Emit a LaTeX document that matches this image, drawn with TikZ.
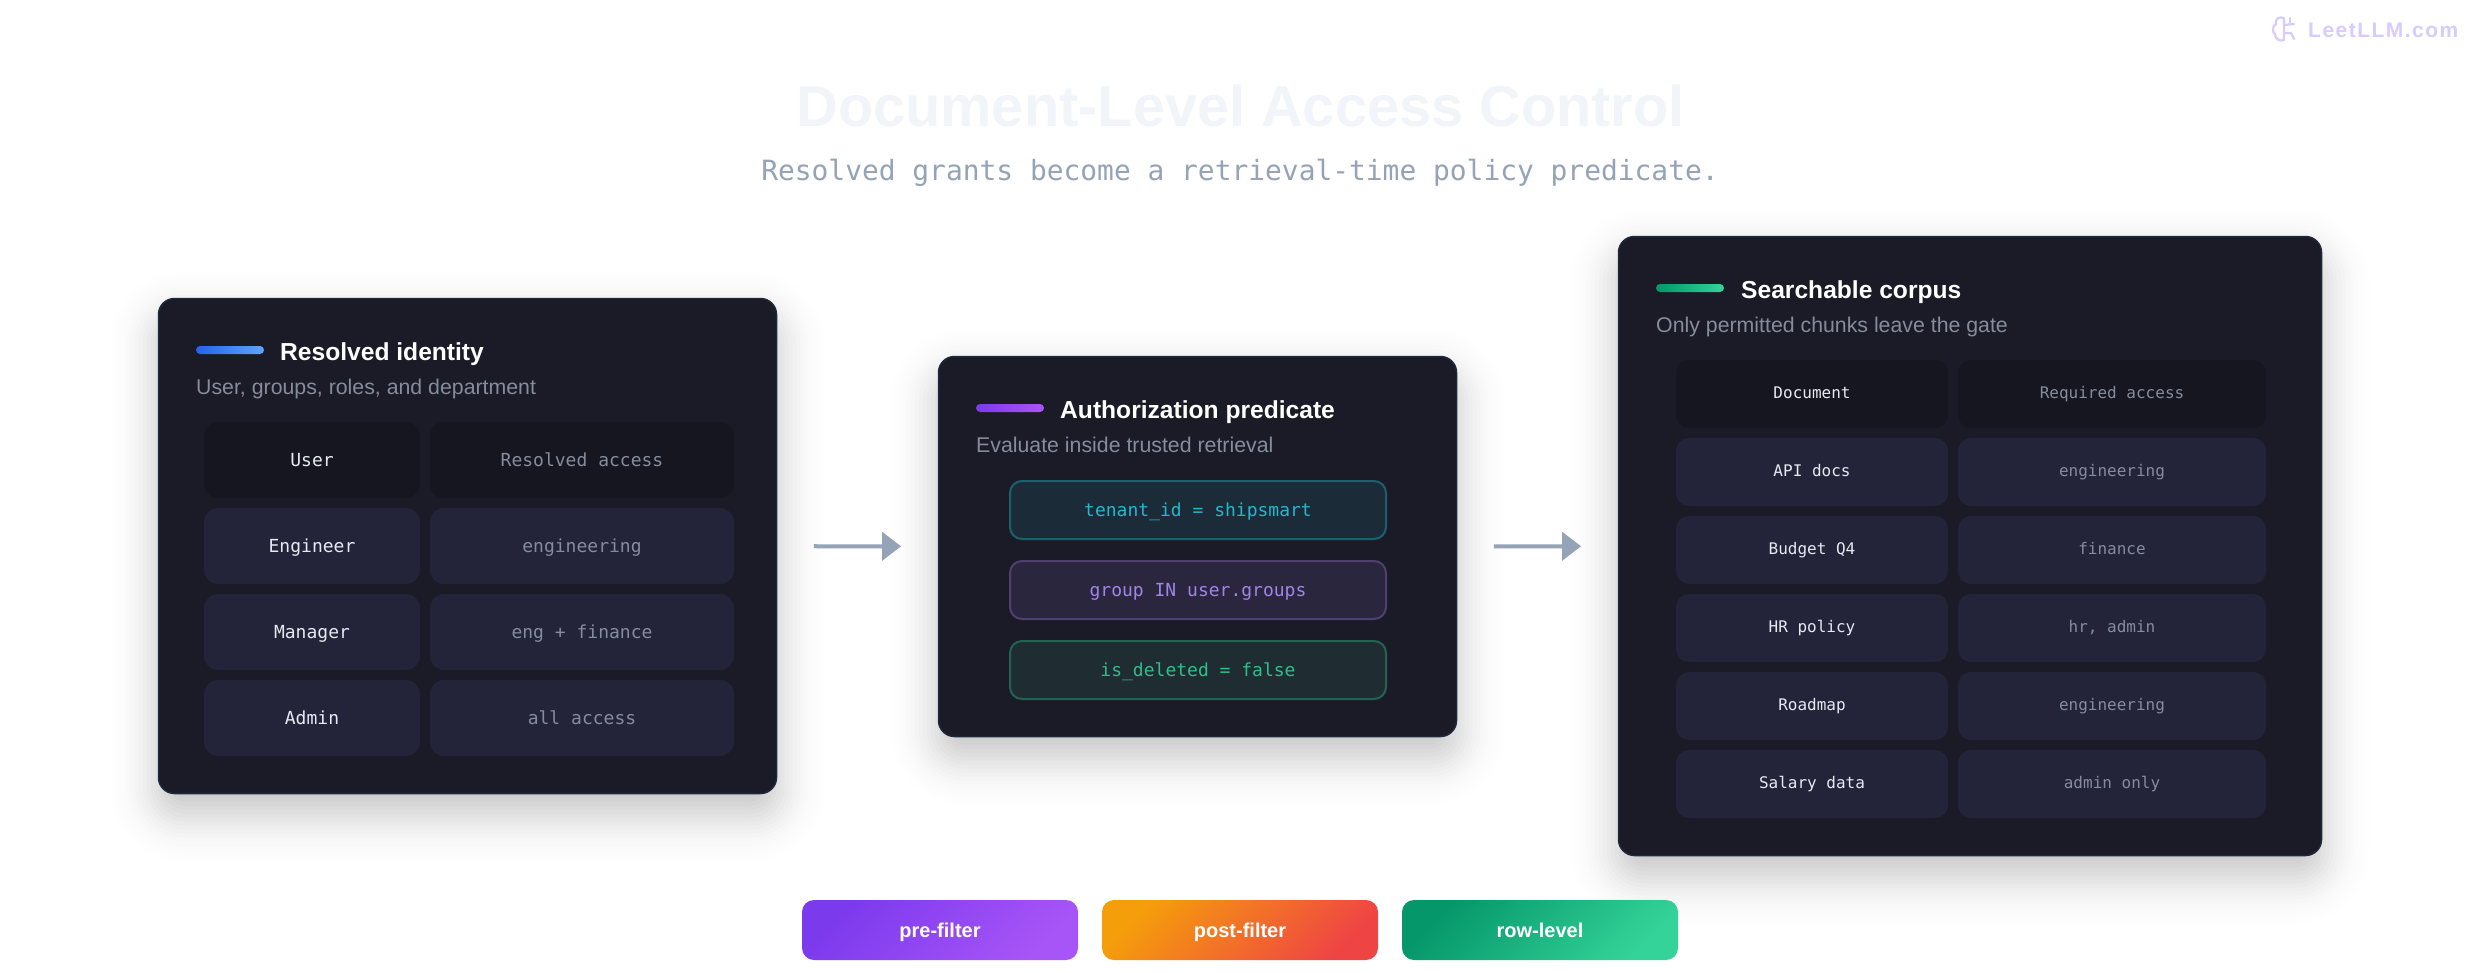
\documentclass[tikz,border=0pt]{standalone}
\usepackage{fontspec}
\setmainfont{Liberation Sans}
\setmonofont{DejaVu Sans Mono}
\usetikzlibrary{calc,positioning,arrows.meta,backgrounds}
\definecolor{cardbg}{HTML}{1A1B26}
\definecolor{cardedge}{HTML}{1E293B}
\definecolor{headcell}{HTML}{161620}
\definecolor{rowcell}{HTML}{23243A}
\definecolor{mutedtext}{HTML}{858C9C}
\definecolor{celltext}{HTML}{E5E9F0}
\definecolor{flowgray}{HTML}{94A3B8}
\definecolor{headingtext}{HTML}{F1F5F9}
\definecolor{brandtext}{HTML}{D6CCFF}
\definecolor{blueA}{HTML}{2563EB}
\definecolor{blueB}{HTML}{60A5FA}
\definecolor{violetA}{HTML}{7C3AED}
\definecolor{violetB}{HTML}{A855F7}
\definecolor{orangeA}{HTML}{F59E0B}
\definecolor{redB}{HTML}{EF4444}
\definecolor{greenA}{HTML}{059669}
\definecolor{greenB}{HTML}{34D399}
\definecolor{tealfill}{HTML}{1B2C38}
\definecolor{tealedge}{HTML}{1A6170}
\definecolor{tealtext}{HTML}{22B8D0}
\definecolor{purpfill}{HTML}{2A263E}
\definecolor{purpedge}{HTML}{4F4070}
\definecolor{purptext}{HTML}{9F85E8}
\definecolor{mintfill}{HTML}{1F2C31}
\definecolor{mintedge}{HTML}{236352}
\definecolor{minttext}{HTML}{2FBF8A}
\tikzset{
  x=1pt, y=-1pt,
  card/.style={
    rectangle,
    rounded corners=16pt,
    fill=cardbg,
    draw=cardedge, line width=1.5pt,
    inner sep=0pt, outer sep=0pt},
  bar/.style={
    rectangle,
    rounded corners=4pt,
    minimum width=68pt, minimum height=8pt,
    inner sep=0pt, outer sep=0pt},
  cardtitle/.style={anchor=base west, inner sep=0pt, text=white,
    font=\fontsize{24.6}{28}\selectfont\bfseries},
  cardsub/.style={anchor=base west, inner sep=0pt, text=mutedtext,
    font=\fontsize{21.3}{24}\selectfont},
  cell/.style={
    rectangle,
    rounded corners=14pt,
    inner sep=0pt, outer sep=0pt,
    minimum height=76pt,
    text height=16pt, text depth=4pt,
    font=\fontsize{18}{22}\selectfont\ttfamily},
  smallcell/.style={cell, rounded corners=13pt, minimum height=68pt,
    text height=13.5pt, text depth=4pt,
    font=\fontsize{16}{20}\selectfont\ttfamily},
  keycell/.style={minimum width=216pt, text=celltext},
  valcell/.style={minimum width=304pt, text=mutedtext},
  smallkey/.style={minimum width=272pt, text=celltext},
  smallval/.style={minimum width=308pt, text=mutedtext},
  clause/.style={
    rectangle,
    rounded corners=12pt,
    line width=2pt,
    inner sep=0pt, outer sep=0pt,
    minimum width=376pt, minimum height=58pt,
    text height=16pt, text depth=4pt,
    font=\fontsize{18}{22}\selectfont\ttfamily},
  pill/.style={
    rectangle,
    rounded corners=12pt,
    inner sep=0pt, outer sep=0pt,
    minimum width=276pt, minimum height=60pt,
    text height=18pt, text depth=4pt,
    text=white,
    font=\fontsize{20}{24}\selectfont\bfseries},
  flow/.style={draw=flowgray, line width=4pt, shorten <=37.4pt, shorten >=37.4pt,
    -{Triangle[length=19pt,width=28pt]}},
  brandline/.style={draw=brandtext, line width=2.2pt, line cap=round, line join=round},
}
% soft drop shadow behind a card, as a stack of faint outlines
\newcommand{\cardshadow}[1]{
  \begin{scope}[on background layer]
    \foreach \g in {-48,-44,...,48}{
      \pgfmathsetmacro{\shadeop}{0.0166*exp(-(\g*\g)/1152)}
      \pgfmathsetmacro{\shaderad}{max(6,26+\g)}
      \fill[black, fill opacity=\shadeop, rounded corners=\shaderad pt]
        ($(#1.north west)+(-\g,20-\g)$) rectangle ($(#1.south east)+(\g,20+\g)$);
    }
  \end{scope}
}

\begin{document}
\begin{tikzpicture}
  \useasboundingbox (0,0) rectangle (2480,972);
  \begin{scope}[on background layer]
    \fill[white] (0,0) rectangle (2480,972);
  \end{scope}
  % heading
  \node[anchor=base, inner sep=0pt, text=headingtext, font=\fontsize{57.7}{60}\selectfont\bfseries]
    (heading) at (1240.5,126) {Document-Level Access Control};
  \node[anchor=base, inner sep=0pt, text=flowgray, font=\fontsize{27.9}{32}\selectfont\ttfamily]
    (subheading) at (1240,180) {Resolved grants become a retrieval-time policy predicate.};
  % brand mark
  \draw[brandline] (2284,18) .. controls (2279,16) and (2275,19) .. (2276,24)
    .. controls (2272,26) and (2272,32) .. (2275,34)
    .. controls (2275,39) and (2280,42) .. (2284,40) -- cycle;
  \draw[brandline] (2284,25) -- (2294,24);
  \draw[brandline] (2284,33) -- (2291,33) -- (2294,39);
  \draw[brandline] (2290,18) -- (2290,24);
  \node[anchor=base west, inner sep=0pt, text=brandtext,
    font=\fontsize{21}{24}\selectfont\bfseries\addfontfeature{LetterSpace=7}]
    (brand) at (2308,37) {LeetLLM.com};

  %% Card 1: identity
  \node[card, minimum width=618pt, minimum height=495pt] (identity) at (467.5,546) {};
  \cardshadow{identity}
  \node[bar, left color=blueA, right color=blueB] (idbar) at (230,350) {};
  \node[cardtitle] (idtitle) at (280,360) {Resolved identity};
  \node[cardsub] (idsub) at (196,394) {User, groups, roles, and department};
  \node[cell, keycell, fill=headcell] (u0) at (312,460) {User};
  \node[cell, valcell, fill=headcell, right=10pt of u0] (a0) {Resolved access};
  \node[cell, keycell, fill=rowcell, below=10pt of u0] (u1) {Engineer};
  \node[cell, valcell, fill=rowcell, right=10pt of u1] (a1) {engineering};
  \node[cell, keycell, fill=rowcell, below=10pt of u1] (u2) {Manager};
  \node[cell, valcell, fill=rowcell, right=10pt of u2] (a2) {eng + finance};
  \node[cell, keycell, fill=rowcell, below=10pt of u2] (u3) {Admin};
  \node[cell, valcell, fill=rowcell, right=10pt of u3] (a3) {all access};

  %% Card 2: predicate
  \node[card, minimum width=518pt, minimum height=380pt] (predicate) at (1197.5,546.5) {};
  \cardshadow{predicate}
  \node[bar, left color=violetA, right color=violetB] (predbar) at (1010,408) {};
  \node[cardtitle] (predtitle) at (1060,418.5) {Authorization predicate};
  \node[cardsub] (predsub) at (976,452) {Evaluate inside trusted retrieval};
  \node[clause, fill=tealfill, draw=tealedge, text=tealtext] (tenant) at (1198,510) {tenant\_id = shipsmart};
  \node[clause, fill=purpfill, draw=purpedge, text=purptext, below=22pt of tenant] (group) {group IN user.groups};
  \node[clause, fill=mintfill, draw=mintedge, text=minttext, below=22pt of group] (deleted) {is\_deleted = false};

  %% Card 3: corpus
  \node[card, minimum width=703pt, minimum height=619pt] (corpus) at (1970,546) {};
  \cardshadow{corpus}
  \node[bar, left color=greenA, right color=greenB] (corpbar) at (1690,288) {};
  \node[cardtitle] (corptitle) at (1741,298.5) {Searchable corpus};
  \node[cardsub] (corpsub) at (1656,332) {Only permitted chunks leave the gate};
  \node[smallcell, smallkey, fill=headcell] (d0) at (1812,394) {Document};
  \node[smallcell, smallval, fill=headcell, right=10pt of d0] (r0) {Required access};
  \node[smallcell, smallkey, fill=rowcell, below=10pt of d0] (d1) {API docs};
  \node[smallcell, smallval, fill=rowcell, right=10pt of d1] (r1) {engineering};
  \node[smallcell, smallkey, fill=rowcell, below=10pt of d1] (d2) {Budget Q4};
  \node[smallcell, smallval, fill=rowcell, right=10pt of d2] (r2) {finance};
  \node[smallcell, smallkey, fill=rowcell, below=10pt of d2] (d3) {HR policy};
  \node[smallcell, smallval, fill=rowcell, right=10pt of d3] (r3) {hr, admin};
  \node[smallcell, smallkey, fill=rowcell, below=10pt of d3] (d4) {Roadmap};
  \node[smallcell, smallval, fill=rowcell, right=10pt of d4] (r4) {engineering};
  \node[smallcell, smallkey, fill=rowcell, below=10pt of d4] (d5) {Salary data};
  \node[smallcell, smallval, fill=rowcell, right=10pt of d5] (r5) {admin only};

  % flow between the cards
  \draw[flow] (identity) -- (predicate);
  \draw[flow] (predicate) -- (corpus);

  % legend
  \node[pill, left color=violetA, right color=violetB, shading angle=45] (prefilter) at (940,930) {pre-filter};
  \node[pill, left color=orangeA, right color=redB, shading angle=45, right=24pt of prefilter] (postfilter) {post-filter};
  \node[pill, left color=greenA, right color=greenB, shading angle=45, right=24pt of postfilter] (rowlevel) {row-level};
\end{tikzpicture}
\end{document}
